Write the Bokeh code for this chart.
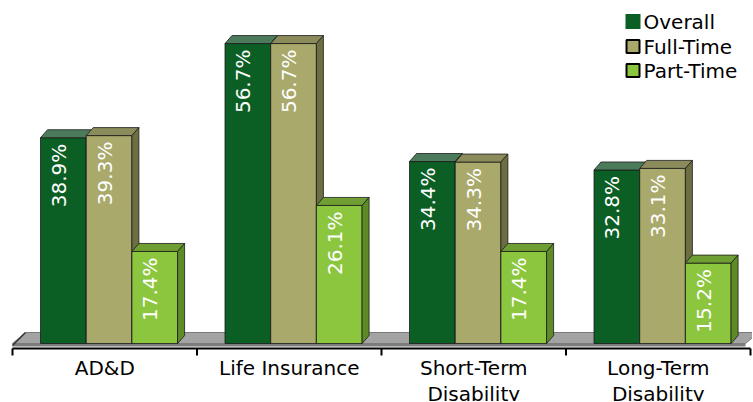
import math
from bokeh.plotting import figure
from bokeh.models import Range1d, ColumnDataSource
from bokeh.embed import file_html
from bokeh.resources import INLINE
from bokeh.core.properties import value

# ---------------- data ----------------
categories = ["AD&D", "Life Insurance", "Short-Term\nDisability", "Long-Term\nDisability"]
series = ["Overall", "Full-Time", "Part-Time"]
overall = [38.9, 56.7, 34.4, 32.8]
full_time = [39.3, 56.7, 34.3, 33.1]
part_time = [17.4, 26.1, 17.4, 15.2]
values = [overall, full_time, part_time]

# ---------------- styles ----------------
front_colors = ["#0b5e24", "#a9a96c", "#8cc63f"]
top_colors = ["#4c7b5c", "#8b8b5c", "#6f9f33"]
side_colors = ["#07461b", "#6e6e43", "#5d8c27"]
FONT = "DejaVu Sans"

W, H = 752, 401
CAT_PX = 184.5      # pixels per category
PCT_PX = 5.29       # pixels per percentage point
ORIGIN_X = 12       # x pixel of category axis start
ORIGIN_Y = 343      # y pixel of value 0


def X(px):
    return (px - ORIGIN_X) / CAT_PX


def Y(py):
    return (ORIGIN_Y - py) / PCT_PX


def DX(px):
    return px / CAT_PX


def DY(py):
    return py / PCT_PX


p = figure(width=W, height=H, output_backend="svg", toolbar_location=None,
           x_range=Range1d(X(0), X(W)), y_range=Range1d(Y(H), Y(0)),
           x_axis_location=None, y_axis_location=None,
           min_border=0, min_border_left=0, min_border_right=0,
           min_border_top=0, min_border_bottom=0)
p.grid.visible = False
p.outline_line_color = None
p.background_fill_color = "white"
p.border_fill_color = "white"

n = len(categories)

# ---------------- floor ----------------
fl_depth_x, fl_depth_y = DX(13), DY(11)
floor_front_end = X(745)
p.patch([0, floor_front_end, floor_front_end + fl_depth_x, fl_depth_x],
        [0, 0, fl_depth_y, fl_depth_y],
        fill_color="#a3a3a3", line_color="#7a7a7a", line_width=1)
p.patch([0, floor_front_end, floor_front_end, 0],
        [0, 0, -DY(3), -DY(3)], fill_color="#7d7d7d", line_color=None)
p.line([0, fl_depth_x], [-DY(2), fl_depth_y], line_color="#333333", line_width=1.5)

# ---------------- 3D bars ----------------
bar_off = DX(28)
bar_w = DX(45.7)
dx, dy = DX(7), DY(8)

for j, vals in enumerate(values):
    x0 = [i + bar_off + j * bar_w for i in range(n)]
    x1 = [a + bar_w for a in x0]
    # front
    p.quad(left=x0, right=x1, bottom=[0] * n, top=vals,
           fill_color=front_colors[j], line_color="#1b1b1b", line_width=1, line_alpha=0.8)
    # top face
    xs_top = [[a, b, b + dx, a + dx] for a, b in zip(x0, x1)]
    ys_top = [[v, v, v + dy, v + dy] for v in vals]
    p.patches(xs_top, ys_top, fill_color=top_colors[j], line_color="#1b1b1b",
              line_width=1, line_alpha=0.8)
    # side face
    xs_side = [[b, b + dx, b + dx, b] for b in x1]
    ys_side = [[0, dy, v + dy, v] for v in vals]
    p.patches(xs_side, ys_side, fill_color=side_colors[j], line_color="#1b1b1b",
              line_width=1, line_alpha=0.8)
    # value labels
    src = ColumnDataSource(dict(
        x=[(a + b) / 2 - DX(4.5) for a, b in zip(x0, x1)],
        y=[v - DY(6) for v in vals],
        t=["%.1f%%" % v for v in vals]))
    p.text(x="x", y="y", text="t", source=src, angle=math.pi / 2,
           text_align="right", text_baseline="middle", text_color="white",
           text_font=value(FONT), text_font_size="20px")

# ---------------- category axis ----------------
axis_y = Y(348)
p.line([0, n], [axis_y, axis_y], line_color="black", line_width=2)
p.segment(x0=list(range(n + 1)), y0=[axis_y] * (n + 1),
          x1=list(range(n + 1)), y1=[Y(355)] * (n + 1),
          line_color="black", line_width=2)
p.text(x=[i + 0.5 for i in range(n)], y=[Y(355)] * n, text=categories,
       text_align="center", text_baseline="top", text_color="black",
       text_font=value(FONT), text_font_size="20px", text_line_height=1.1)

# ---------------- legend ----------------
leg_rows = [21, 46, 70]
for j, name in enumerate(series):
    cy = leg_rows[j]
    if j == 0:
        p.quad(left=[X(625)], right=[X(640)], bottom=[Y(cy + 7.5)], top=[Y(cy - 7.5)],
               fill_color=front_colors[j], line_color=None)
    else:
        p.quad(left=[X(626)], right=[X(639)], bottom=[Y(cy + 6.5)], top=[Y(cy - 6.5)],
               fill_color=front_colors[j], line_color="black", line_width=2)
    p.text(x=[X(643)], y=[Y(cy)], text=[name], text_align="left", text_baseline="middle",
           text_color="black", text_font=value(FONT), text_font_size="20px")

open("out.html", "w").write(file_html(p, INLINE))
